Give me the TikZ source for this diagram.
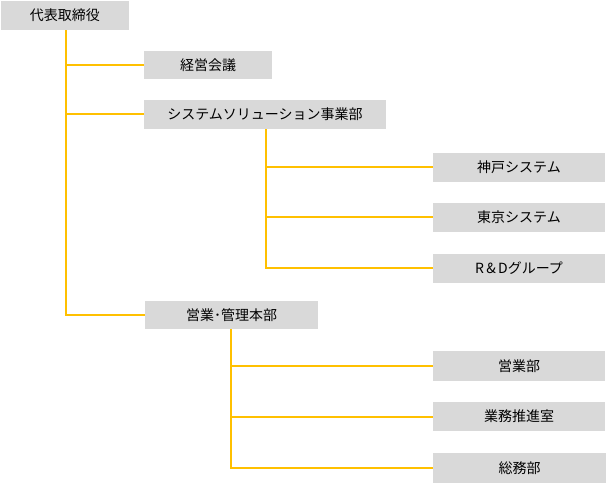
\documentclass[tikz,border=0pt]{standalone}
\usepackage{fontspec}
\newfontfamily\cjk{Noto Sans CJK JP}
\definecolor{boxgray}{HTML}{D9D9D9}
\definecolor{lineyel}{HTML}{FFC000}
\tikzset{
  box/.style={fill=boxgray, draw=none, inner sep=0pt, font=\cjk\fontsize{14}{16}\selectfont, anchor=center},
  conn/.style={draw=lineyel, line width=2pt}
}
\begin{document}
\begin{tikzpicture}[x=1pt,y=-1pt]
\useasboundingbox (0,0) rectangle (606,484);
\node[box, minimum width=128pt, minimum height=29pt] (ceo) at (65,15.5) {代表取締役};
\node[box, minimum width=128pt, minimum height=28pt] (keiei) at (208,65) {経営会議};
\node[box, minimum width=242pt, minimum height=29pt] (ss) at (265,114.5) {システムソリューション事業部};
\node[box, minimum width=172pt, minimum height=29pt] (kobe) at (519,167.5) {神戸システム};
\node[box, minimum width=172pt, minimum height=29pt] (tokyo) at (519,217.5) {東京システム};
\node[box, minimum width=172pt, minimum height=29pt] (rd) at (519,268.5) {R\,\&\,Dグループ};
\node[box, minimum width=173pt, minimum height=28pt] (eik) at (231.5,315) {営業･管理本部};
\node[box, minimum width=172pt, minimum height=30pt] (eig) at (519,366) {営業部};
\node[box, minimum width=172pt, minimum height=29pt] (gyo) at (519,416.5) {業務推進室};
\node[box, minimum width=173pt, minimum height=30pt] (som) at (519.5,468) {総務部};
% CEO tree
\draw[conn] (ceo.south -| 66,0) |- (keiei.west);
\draw[conn] (ceo.south -| 66,0) |- (ss.west);
\draw[conn] (ceo.south -| 66,0) |- (eik.west);
% SS tree
\draw[conn] (ss.south -| 266,0) |- (kobe.west);
\draw[conn] (ss.south -| 266,0) |- (tokyo.west);
\draw[conn] (ss.south -| 266,0) |- (rd.west);
% EIK tree
\draw[conn] (eik.south -| 231,0) |- (eig.west);
\draw[conn] (eik.south -| 231,0) |- (gyo.west);
\draw[conn] (eik.south -| 231,0) |- (som.west);
\end{tikzpicture}
\end{document}
